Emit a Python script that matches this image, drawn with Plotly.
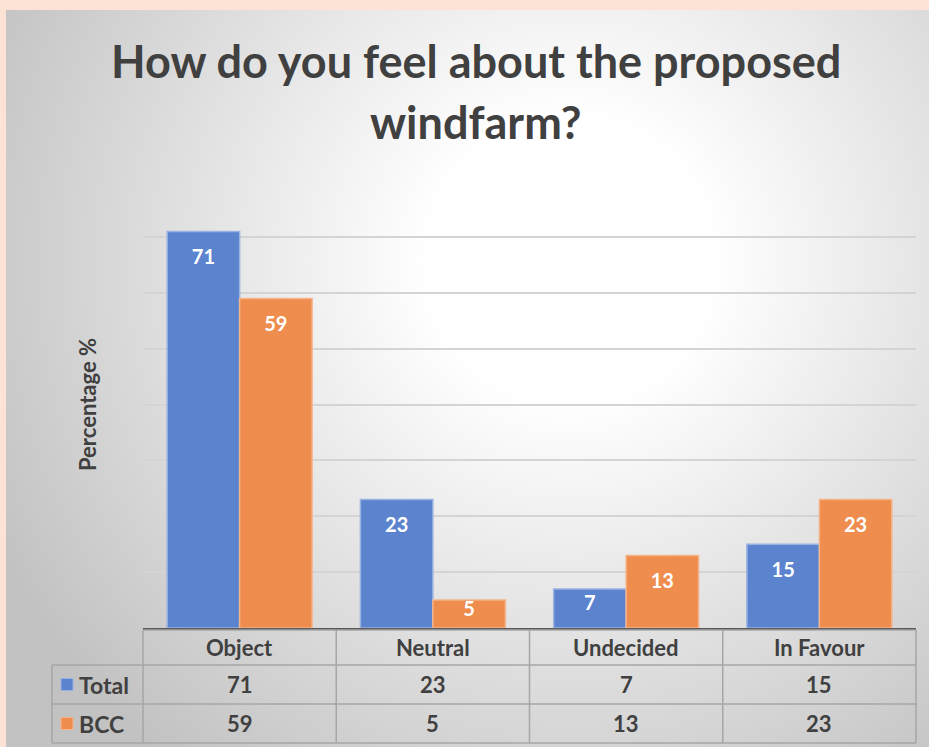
import base64
import plotly.graph_objects as go

# ---------------- data ----------------
categories = ["Object", "Neutral", "Undecided", "In Favour"]
series_names = ["Total", "BCC"]
total_values = [71, 23, 7, 15]
bcc_values = [59, 5, 13, 23]
title_lines = ["How do you feel about the proposed", "windfarm?"]
y_title = "Percentage %"

W, H = 929, 747
BLUE, BLUE_EDGE = "#5B83CE", "#9AB2E2"
ORANGE, ORANGE_EDGE = "#EE8D4E", "#F5B48A"
TXT = "#404040"
FONT = "Lato"

def px_x(p):
    return p / W

def px_y(p):
    return 1 - p / H

# plot area in pixels
PX0, PX1 = 143, 916
PY_BOT, PY_TOP = 628, 181

fig = go.Figure()

series = [(series_names[0], total_values, BLUE, BLUE_EDGE),
          (series_names[1], bcc_values, ORANGE, ORANGE_EDGE)]

for name, vals, col, edge in series:
    fig.add_trace(go.Bar(
        x=categories, y=vals, name=name, offsetgroup=name,
        marker=dict(color=col, line=dict(color=edge, width=1.5)),
        showlegend=False, hoverinfo="skip",
    ))

# data labels (inside end), clipped at the axis like the reference
for name, vals, col, edge in series:
    fig.add_trace(go.Scatter(
        x=categories, y=[v - min(5.0, 0.4 * v) for v in vals],
        mode="text", text=[str(v) for v in vals], offsetgroup=name,
        textposition="middle center", cliponaxis=True,
        textfont=dict(family=FONT, size=20, color="white", weight="bold"),
        showlegend=False, hoverinfo="skip",
    ))

# ---------------- background gradient panel ----------------
pw, ph = W - 6, H - 10
svg = (f'<svg xmlns="http://www.w3.org/2000/svg" width="{pw}" height="{ph}">'
       '<defs><radialGradient id="g" gradientUnits="userSpaceOnUse" '
       'cx="564" cy="250" r="640"><stop offset="0" stop-color="#ffffff"/>'
       '<stop offset="0.22" stop-color="#ffffff"/>'
       '<stop offset="1" stop-color="#c2c2c2"/></radialGradient></defs>'
       f'<rect width="{pw}" height="{ph}" fill="url(#g)"/></svg>')
src = "data:image/svg+xml;base64," + base64.b64encode(svg.encode()).decode()

images = [dict(source=src, xref="paper", yref="paper", x=px_x(6), y=px_y(10),
               sizex=pw / W, sizey=ph / H, xanchor="left", yanchor="top",
               sizing="stretch", layer="below")]

# ---------------- data table ----------------
shapes = []
annotations = []
LINE = dict(color="#a6a6a6", width=1.5)
col_w = (PX1 - PX0) / len(categories)
row_edges = [630, 665, 704, 743]
LEFT = 52

shapes.append(dict(type="line", xref="paper", yref="paper", x0=px_x(PX0), x1=px_x(PX1),
                   y0=px_y(row_edges[0]), y1=px_y(row_edges[0]), line=LINE))
for ry in row_edges[1:]:
    shapes.append(dict(type="line", xref="paper", yref="paper", x0=px_x(LEFT), x1=px_x(PX1),
                       y0=px_y(ry), y1=px_y(ry), line=LINE))
for i in range(len(categories) + 1):
    cx = PX0 + i * col_w
    shapes.append(dict(type="line", xref="paper", yref="paper", x0=px_x(cx), x1=px_x(cx),
                       y0=px_y(row_edges[0]), y1=px_y(row_edges[-1]), line=LINE))
shapes.append(dict(type="line", xref="paper", yref="paper", x0=px_x(LEFT), x1=px_x(LEFT),
                   y0=px_y(row_edges[1]), y1=px_y(row_edges[-1]), line=LINE))

def cell_text(text, cx, cy, size=22, xanchor="center"):
    annotations.append(dict(text=text, xref="paper", yref="paper", x=px_x(cx), y=px_y(cy),
                            xanchor=xanchor, yanchor="middle", showarrow=False,
                            font=dict(family=FONT, size=size, color=TXT, weight="bold")))

for i, c in enumerate(categories):
    cell_text(c, PX0 + (i + 0.5) * col_w, (row_edges[0] + row_edges[1]) / 2)

for r, (name, vals, col, edge) in enumerate(series):
    cy = (row_edges[r + 1] + row_edges[r + 2]) / 2
    shapes.append(dict(type="rect", xref="paper", yref="paper",
                       x0=px_x(61), x1=px_x(73), y0=px_y(cy - 6), y1=px_y(cy + 6),
                       fillcolor=col, line=dict(color=edge, width=1)))
    cell_text(name, 77, cy, size=23, xanchor="left")
    for i, v in enumerate(vals):
        cell_text(str(v), PX0 + (i + 0.5) * col_w, cy)

# title
for k, line in enumerate(title_lines):
    annotations.append(dict(text=line, xref="paper", yref="paper", x=px_x(476),
                            y=px_y(61 + k * 61), xanchor="center", yanchor="middle",
                            showarrow=False,
                            font=dict(family=FONT, size=45, color=TXT, weight="bold")))

# y-axis title
annotations.append(dict(text=y_title, xref="paper", yref="paper", x=px_x(87), y=px_y(405),
                        xanchor="center", yanchor="middle", textangle=-90, showarrow=False,
                        font=dict(family=FONT, size=22, color=TXT, weight="bold")))

fig.update_layout(
    width=W, height=H,
    margin=dict(l=0, r=0, t=0, b=0),
    paper_bgcolor="#FDE3D6",
    plot_bgcolor="rgba(0,0,0,0)",
    barmode="group", bargap=0.25, bargroupgap=0,
    scattermode="group", scattergap=0.25,
    images=images, shapes=shapes, annotations=annotations,
    xaxis=dict(domain=[px_x(PX0), px_x(PX1)], type="category", showticklabels=False,
               ticks="", showgrid=False, showline=True, linecolor="#595959", linewidth=2,
               zeroline=False),
    yaxis=dict(domain=[px_y(PY_BOT), px_y(PY_TOP)], range=[0, 80.05], dtick=10,
               showticklabels=False, ticks="", showgrid=True, gridcolor="#d4d4d4",
               gridwidth=1.5, zeroline=False, showline=False),
    showlegend=False,
)

fig.write_html("out.html", config={"displayModeBar": False},
               post_script="document.body.style.margin='0';document.body.style.padding='0';")
